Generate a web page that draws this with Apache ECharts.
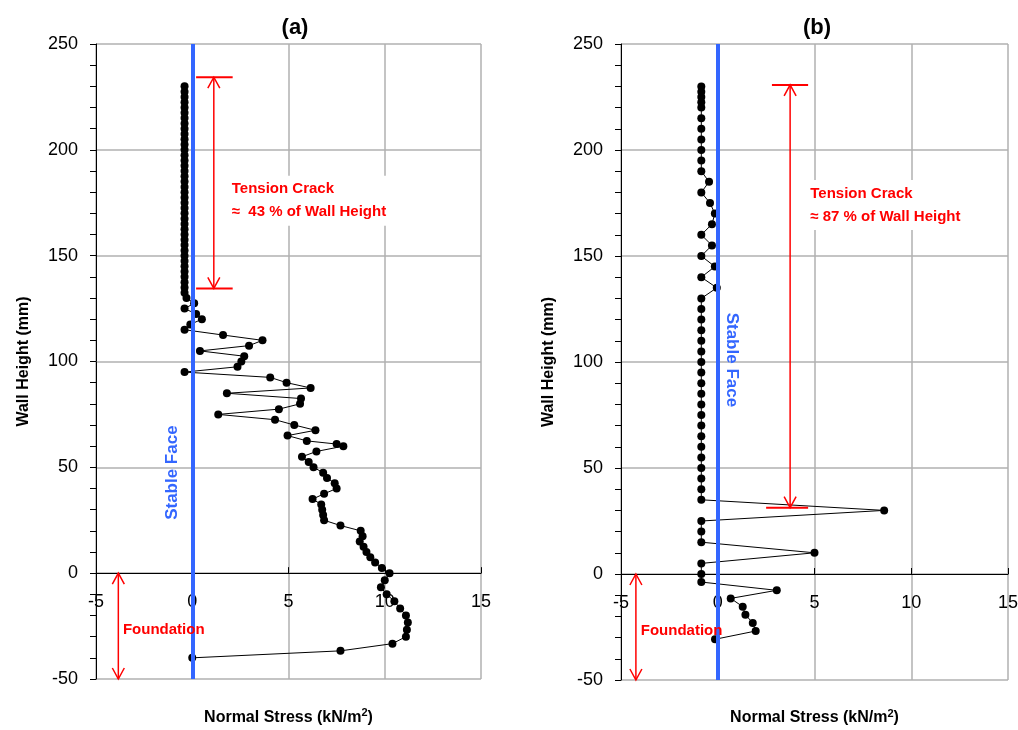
<!DOCTYPE html>
<html>
<head>
<meta charset="utf-8">
<script src="https://cdn.jsdelivr.net/npm/echarts@6/dist/echarts.min.js"></script>
<style>
html,body{margin:0;padding:0;background:#fff;}
#chart{width:1018px;height:730px;}
</style>
</head>
<body>
<div id="chart"></div>
<script>
// ---------------- DATA ----------------
const panelTitles = ['(a)', '(b)'];
const xTicks = [-5, 0, 5, 10, 15];
const yTicks = [-50, 0, 50, 100, 150, 200, 250];
const xAxisCrossAt = 0; // x axis drawn at wall height 0

// Panel (a): wall height (mm) and normal stress (kN/m2)
const heightsA = [
  230,227.5,225,222.5,220,217.5,215,212.5,210,207.5,
  205,202.5,200,197.5,195,192.5,190,187.5,185,182.5,
  180,177.5,175,172.5,170,167.5,165,162.5,160,157.5,
  155,152.5,150,147.5,145,142.5,140,137.5,135,132.5,
  130,127.5,125,122.5,120,117.5,115,112.5,110,107.5,
  105,102.5,100,97.5,95,92.5,90,87.5,85,82.5,
  80,77.5,75,72.5,70,67.5,65,62.5,61,60,
  57.5,55,52.5,50,47.5,45,42.5,40,37.5,35,
  32.5,30,27.5,25,22.5,20,17.5,15,12.5,10,
  7.5,5,2.5,0,-3.3,-6.7,-10,-13.3,-16.7,-20,
  -23.3,-26.7,-30,-33.3,-36.7,-40
];
const stressA = [
  -0.4,-0.4,-0.4,-0.4,-0.4,-0.4,-0.4,-0.4,-0.4,-0.4,
  -0.4,-0.4,-0.4,-0.4,-0.4,-0.4,-0.4,-0.4,-0.4,-0.4,
  -0.4,-0.4,-0.4,-0.4,-0.4,-0.4,-0.4,-0.4,-0.4,-0.4,
  -0.4,-0.4,-0.4,-0.4,-0.4,-0.4,-0.4,-0.4,-0.4,-0.4,
  -0.3,0.1,-0.4,0.2,0.5,-0.1,-0.4,1.6,3.65,2.95,
  0.4,2.7,2.55,2.35,-0.4,4.05,4.9,6.15,1.8,5.65,
  5.6,4.5,1.35,4.3,5.3,6.4,4.95,5.95,7.5,7.85,
  6.45,5.7,6.05,6.3,6.8,7.0,7.4,7.5,6.85,6.25,
  6.7,6.75,6.8,6.85,7.7,8.75,8.85,8.7,8.9,9.05,
  9.25,9.5,9.85,10.25,10.0,9.8,10.1,10.5,10.8,11.1,
  11.2,11.15,11.1,10.4,7.7,0.0
];

// Panel (b)
const heightsB = [
  230,227.5,225,222.5,220,215,210,205,200,195,
  190,185,180,175,170,165,160,155,150,145,
  140,135,130,125,120,115,110,105,100,95,
  90,85,80,75,70,65,60,55,50,45,
  40,35,30,25,20,15,10,5,0,-3.8,
  -7.7,-11.5,-15.4,-19.2,-23.1,-26.9,-30.8
];
const stressB = [
  -0.85,-0.85,-0.85,-0.85,-0.85,-0.85,-0.85,-0.85,-0.85,-0.85,
  -0.85,-0.45,-0.85,-0.4,-0.15,-0.3,-0.85,-0.3,-0.85,-0.15,
  -0.85,-0.05,-0.85,-0.85,-0.85,-0.85,-0.85,-0.85,-0.85,-0.85,
  -0.85,-0.85,-0.85,-0.85,-0.85,-0.85,-0.85,-0.85,-0.85,-0.85,
  -0.85,-0.85,8.6,-0.85,-0.85,-0.85,5.0,-0.85,-0.85,-0.85,
  3.05,0.67,1.29,1.43,1.81,1.96,-0.14
];

const stableFaceX = 0;
const crackTextA = ['Tension Crack', '\u2248  43 % of Wall Height'];
const crackTextB = ['Tension Crack', '\u2248 87 % of Wall Height'];
const foundationText = 'Foundation';
const stableFaceText = 'Stable Face';

// ---------------- ANNOTATION ANCHORS (data coords) ----------------
const annot = [
  { // panel a
    crack: {x: 1.12, top: 234.3, bottom: 134.5, capTop: [0.2, 2.1], capBottom: [0.2, 2.1]},
    crackText: {x: 1.95, y: 176},
    found: {x: -3.84, top: 0, bottom: -50},
    foundText: {x: -3.6, y: -27},
    stable: {x: -1.05, y: 47.5, rot: Math.PI / 2}
  },
  { // panel b
    crack: {x: 3.74, top: 230.7, bottom: 31.3, capTop: [2.8, 4.67], capBottom: [2.5, 4.67]},
    crackText: {x: 4.68, y: 174},
    found: {x: -4.23, top: 0, bottom: -50},
    foundText: {x: -3.98, y: -27},
    stable: {x: 0.74, y: 101, rot: -Math.PI / 2}
  }
];

// ---------------- CHART ----------------
const FONT = '"Liberation Sans", Arial, Helvetica, sans-serif';
const chart = echarts.init(document.getElementById('chart'), null, {renderer: 'canvas'});

function toPairs(xs, ys) { return xs.map((x, i) => [x, ys[i]]); }

const grids = [
  {left: 96, top: 44, width: 385, height: 635, containLabel: false, outerBoundsMode: 'none'},
  {left: 621, top: 44, width: 387, height: 636, containLabel: false, outerBoundsMode: 'none'}
];

function xAxisFor(i) {
  return {
    type: 'value', gridIndex: i, position: 'bottom', offset: 0,
    min: xTicks[0], max: xTicks[xTicks.length - 1], interval: 5,
    name: 'Normal Stress (kN/m{sup|2})', nameLocation: 'middle', nameGap: 134,
    nameTextStyle: {fontFamily: FONT, fontSize: 16, fontWeight: 'bold', color: '#000',
      rich: {sup: {fontFamily: FONT, fontSize: 11, fontWeight: 'bold', color: '#000', padding: [0, 0, 9, 0]}}},
    axisLine: {show: true, onZero: false, lineStyle: {color: '#000', width: 1}},
    axisTick: {show: true, inside: true, length: 6, lineStyle: {color: '#000'}},
    axisLabel: {fontFamily: FONT, fontSize: 18, color: '#000', margin: 20},
    splitLine: {show: true, lineStyle: {color: '#b0b0b0', width: 1.5}}
  };
}
function yAxisFor(i) {
  return {
    type: 'value', gridIndex: i, min: yTicks[0], max: yTicks[yTicks.length - 1], interval: 50,
    name: 'Wall Height (mm)', nameLocation: 'middle', nameGap: 64,
    nameTextStyle: {fontFamily: FONT, fontSize: 16, fontWeight: 'bold', color: '#000'},
    axisLine: {show: true, onZero: false, lineStyle: {color: '#000', width: 1}},
    axisTick: {show: true, inside: false, length: 6, lineStyle: {color: '#000'}},
    minorTick: {show: true, splitNumber: 5, length: 6, lineStyle: {color: '#000'}},
    axisLabel: {fontFamily: FONT, fontSize: 18, color: '#000', margin: 18},
    splitLine: {show: true, lineStyle: {color: '#b0b0b0', width: 1.5}}
  };
}
function dataSeries(i, xs, ys) {
  return {
    type: 'line', xAxisIndex: i, yAxisIndex: i, data: toPairs(xs, ys),
    symbol: 'circle', symbolSize: 8, showSymbol: true,
    lineStyle: {color: '#000', width: 1}, itemStyle: {color: '#000'},
    silent: true, animation: false, z: 3,
    markLine: {
      silent: true, symbol: 'none', animation: false,
      label: {show: false},
      lineStyle: {color: '#3366FF', width: 4, type: 'solid'},
      data: [{xAxis: stableFaceX}],
      z: 4
    }
  };
}

const option = {
  animation: false,
  backgroundColor: '#fff',
  title: [
    {text: panelTitles[0], left: 290, top: 12, textAlign: 'center',
      textStyle: {fontFamily: FONT, fontSize: 22, fontWeight: 'bold', color: '#000'}},
    {text: panelTitles[1], left: 812, top: 12, textAlign: 'center',
      textStyle: {fontFamily: FONT, fontSize: 22, fontWeight: 'bold', color: '#000'}}
  ],
  grid: grids,
  xAxis: [xAxisFor(0), xAxisFor(1)],
  yAxis: [yAxisFor(0), yAxisFor(1)],
  series: [dataSeries(0, stressA, heightsA), dataSeries(1, stressB, heightsB)]
};
chart.setOption(option);

// ---------------- ANNOTATIONS (positioned via library scales) ----------------
const RED = '#FF0000';
function px(g, x, y) { return chart.convertToPixel({gridIndex: g}, [x, y]); }

// move each x axis (line, ticks, labels, name) up to the wall-height-0 level
const offsets = [0, 1].map(g => -(px(g, 0, yTicks[0])[1] - px(g, 0, xAxisCrossAt)[1]));
chart.setOption({xAxis: [{offset: offsets[0]}, {offset: offsets[1]}]});

function line(p1, p2, w) {
  return {type: 'line', silent: true, z: 10,
    shape: {x1: p1[0], y1: p1[1], x2: p2[0], y2: p2[1]},
    style: {stroke: RED, lineWidth: w}};
}
function head(tip, dir) { // dir: -1 pointing up, +1 pointing down
  return {type: 'polyline', silent: true, z: 10,
    shape: {points: [[tip[0] - 6, tip[1] - dir * 11], tip, [tip[0] + 6, tip[1] - dir * 11]]},
    style: {stroke: RED, lineWidth: 1.5, fill: null}};
}
function arrow(g, x, yTop, yBot) {
  const t = px(g, x, yTop), b = px(g, x, yBot);
  return [line(t, b, 1.5), head(t, -1), head(b, 1)];
}
const graphics = [];
annot.forEach((a, g) => {
  graphics.push(...arrow(g, a.crack.x, a.crack.top, a.crack.bottom));
  graphics.push(line(px(g, a.crack.capTop[0], a.crack.top), px(g, a.crack.capTop[1], a.crack.top), 2));
  graphics.push(line(px(g, a.crack.capBottom[0], a.crack.bottom), px(g, a.crack.capBottom[1], a.crack.bottom), 2));
  graphics.push(...arrow(g, a.found.x, a.found.top, a.found.bottom));
  const ct = px(g, a.crackText.x, a.crackText.y);
  graphics.push({type: 'text', silent: true, z: 11, x: ct[0], y: ct[1],
    style: {text: (g === 0 ? crackTextA : crackTextB).join('\n'), fill: RED,
      font: 'bold 15px ' + FONT, lineHeight: 23, align: 'left', verticalAlign: 'middle',
      backgroundColor: '#fff', padding: [2, 4, 2, 2]}});
  const ft = px(g, a.foundText.x, a.foundText.y);
  graphics.push({type: 'text', silent: true, z: 11, x: ft[0], y: ft[1],
    style: {text: foundationText, fill: RED, font: 'bold 15px ' + FONT,
      align: 'left', verticalAlign: 'middle'}});
  const st = px(g, a.stable.x, a.stable.y);
  graphics.push({type: 'text', silent: true, z: 11, x: st[0], y: st[1], rotation: a.stable.rot,
    style: {text: stableFaceText, fill: '#3366FF', font: 'bold 17px ' + FONT,
      align: 'center', verticalAlign: 'middle'}});
});
chart.setOption({graphic: graphics});
</script>
</body>
</html>
